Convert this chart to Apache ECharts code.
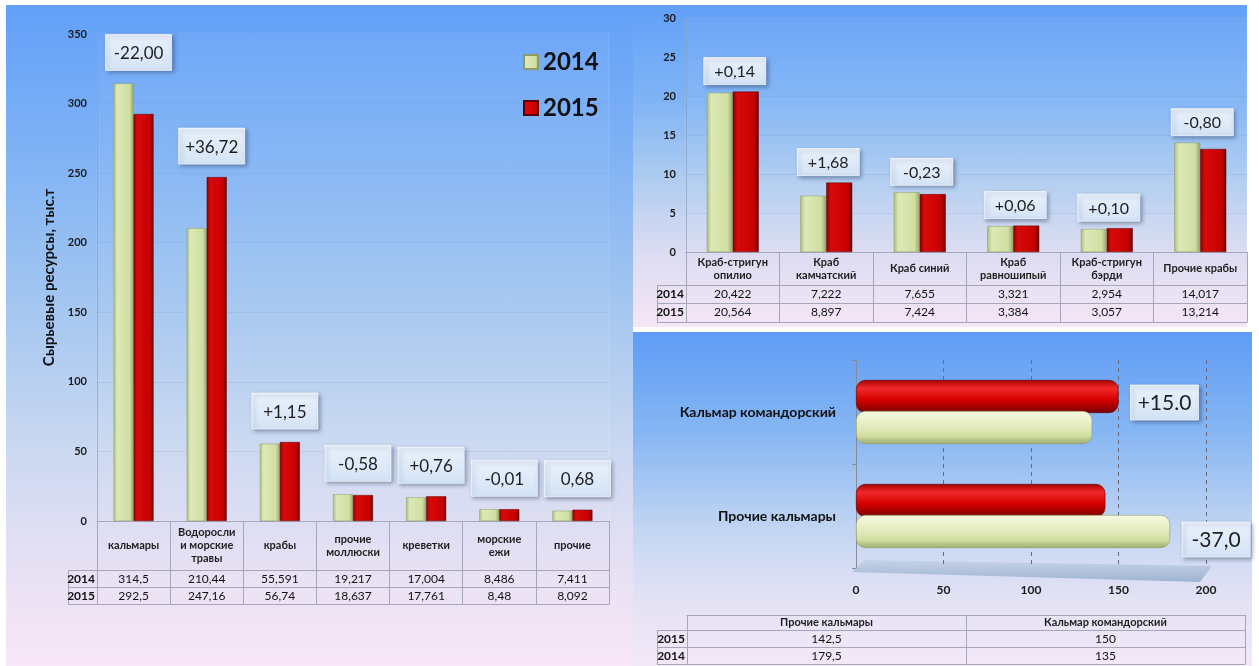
<!DOCTYPE html>
<html>
<head>
<meta charset="utf-8">
<script src="https://cdn.jsdelivr.net/npm/echarts@6/dist/echarts.min.js"></script>
<style>
html,body{margin:0;padding:0;background:#fff;width:1259px;height:666px;overflow:hidden;}
.panel{position:absolute;}
#p1{left:6px;top:5px;width:627px;height:661px;background:linear-gradient(to bottom,#62a0f8 0%,#7fb2f5 22%,#a3c6f0 45%,#cad8f1 67%,#e6e0f4 84%,#f8e7f6 100%);}
#p2{left:633px;top:5px;width:614px;height:322px;background:linear-gradient(to bottom,#62a0f8 0%,#80b4f5 30%,#b0cdf0 55%,#dcdcf2 77%,#f6e6f6 100%);}
#p3{left:633px;top:332px;width:619px;height:334px;background:linear-gradient(to bottom,#5f9cf6 0%,#86b6f3 30%,#c4d6f2 60%,#e4e2f5 80%,#f3e8f8 100%);}
#chart{position:absolute;left:0;top:0;width:1259px;height:666px;}
</style>
</head>
<body>
<div class="panel" id="p1"></div>
<div class="panel" id="p2"></div>
<div class="panel" id="p3"></div>
<div id="chart"></div>
<script>
// ---------- DATA ----------
const years = ['2014', '2015'];

const mainCats = ['кальмары', 'Водоросли\nи морские\nтравы', 'крабы', 'прочие\nмоллюски', 'креветки', 'морские\nежи', 'прочие'];
const main2014 = [314.5, 210.44, 55.591, 19.217, 17.004, 8.486, 7.411];
const main2015 = [292.5, 247.16, 56.74, 18.637, 17.761, 8.48, 8.092];
const mainChange = ['-22,00', '+36,72', '+1,15', '-0,58', '+0,76', '-0,01', '0,68'];
const mainAxisName = 'Сырьевые ресурсы, тыс.т';

const crabCats = ['Краб-стригун\nопилио', 'Краб\nкамчатский', 'Краб синий', 'Краб\nравношипый', 'Краб-стригун\nбэрди', 'Прочие крабы'];
const crab2014 = [20.422, 7.222, 7.655, 3.321, 2.954, 14.017];
const crab2015 = [20.564, 8.897, 7.424, 3.384, 3.057, 13.214];
const crabChange = ['+0,14', '+1,68', '-0,23', '+0,06', '+0,10', '-0,80'];

const squidCats = ['Прочие кальмары', 'Кальмар командорский'];
const squid2015 = [142.5, 150];
const squid2014 = [179.5, 135];
const squidChange = ['-37,0', '+15.0'];

// ---------- STYLE / LAYOUT ----------
const FONT = "Lato, 'Noto Sans', sans-serif";
const BORDER = '#a4a6ba';
const L = {
  main:  {left: 97,  top: 34,  width: 512, height: 487, rows: [49, 66, 83], rowLeft: 68},
  crab:  {left: 686, top: 18,  width: 561, height: 234, rows: [33, 51, 70], rowLeft: 657},
  squid: {left: 856, top: 360, width: 350, height: 208},
  stab:  {left: 687, top: 600, width: 558, height: 15, rows: [15, 32, 49], rowLeft: 657}
};

const fmt = v => String(v).replace('.', ',');

const gV = (c1, c2, c3, c4) => new echarts.graphic.LinearGradient(0, 0, 1, 0, [
  {offset: 0, color: c1}, {offset: 0.18, color: c2}, {offset: 0.8, color: c3}, {offset: 1, color: c4}]);
const GREEN = gV('#a9bb7e', '#dde9b6', '#d0dfa2', '#94a66a');
const RED = gV('#870000', '#d80a0a', '#c80000', '#720000');
const GREEN_H = new echarts.graphic.LinearGradient(0, 0, 0, 1, [
  {offset: 0, color: '#f5f9e0'}, {offset: 0.35, color: '#e9f0c8'}, {offset: 0.75, color: '#d3dfa4'}, {offset: 1, color: '#9dad6e'}]);
const RED_H = new echarts.graphic.LinearGradient(0, 0, 0, 1, [
  {offset: 0, color: '#a80000'}, {offset: 0.25, color: '#f02a2a'}, {offset: 0.6, color: '#d60000'}, {offset: 1, color: '#760000'}]);

function boxRender(arr, w, h, gap, fs, horizontal, barW, dxShift) {
  return function (params, api) {
    const i = params.dataIndex;
    let x, y;
    const p = api.coord([api.value(0), api.value(1)]);
    if (!horizontal) {
      x = p[0] - w / 2 + (dxShift || 0); y = p[1] - gap - h;
    } else {
      const dy = api.value(2) ? barW / 2 : -barW / 2; // longer bar: 2014 lower, 2015 upper
      x = p[0] + gap; y = p[1] + dy + 7 - h / 2;
    }
    return {
      type: 'group',
      children: [
        {type: 'rect', shape: {x: x, y: y, width: w, height: h},
         style: {fill: new echarts.graphic.LinearGradient(0, 0, 0, 1, [{offset: 0, color: '#e9f1fb'}, {offset: 1, color: '#d3e3f6'}]),
                 stroke: 'rgba(255,255,255,0.7)', lineWidth: 1,
                 shadowBlur: 4, shadowOffsetX: 2, shadowOffsetY: 2, shadowColor: 'rgba(40,60,90,0.45)'}},
        {type: 'text', style: {text: arr[i], x: x + w / 2, y: y + h / 2 + 1, align: 'center', verticalAlign: 'middle',
                 fontSize: fs, fontFamily: FONT, fill: '#1e1e1e'}}
      ]
    };
  };
}

function tableAxes(gridIndex, cats, headerH, rowOffsets, rowNames, rowVals, headerFont) {
  const axes = [{
    gridIndex, type: 'category', data: cats, position: 'bottom',
    axisLine: {show: true, lineStyle: {color: BORDER}},
    axisTick: {show: true, interval: 0, length: rowOffsets[rowOffsets.length - 1], lineStyle: {color: BORDER}},
    axisLabel: {interval: 0, margin: headerH / 2, verticalAlign: 'middle', fontSize: headerFont.size, fontWeight: headerFont.weight,
                color: '#1e1e1e', lineHeight: 13, fontFamily: FONT},
    splitLine: {show: false}
  }];
  rowNames.forEach((nm, r) => {
    axes.push({
      gridIndex, type: 'category', data: cats, position: 'bottom', offset: rowOffsets[r],
      name: nm, nameLocation: 'start', nameGap: 2,
      nameTextStyle: {fontSize: 12, fontWeight: 'bold', color: '#111', fontFamily: FONT, verticalAlign: 'top', padding: [3, 0, 0, 0]},
      axisLine: {show: true, lineStyle: {color: BORDER}},
      axisTick: {show: false},
      axisLabel: {interval: 0, margin: 3, fontSize: 12, color: '#111', fontFamily: FONT, formatter: (v, i) => fmt(rowVals[r][i])},
      splitLine: {show: false}
    });
  });
  axes.push({
    gridIndex, type: 'category', data: cats, position: 'bottom', offset: rowOffsets[rowOffsets.length - 1],
    axisLine: {show: true, lineStyle: {color: BORDER}}, axisTick: {show: false}, axisLabel: {show: false}, splitLine: {show: false}
  });
  return axes;
}

function rowHeaderLines(g) {
  const base = g.top + g.height;
  const x0 = g.rowLeft, x1 = g.left;
  const els = [];
  const r = g.rows;
  els.push({type: 'line', shape: {x1: x0 + 0.5, y1: base + r[0], x2: x0 + 0.5, y2: base + r[2]}, style: {stroke: BORDER, lineWidth: 1}, silent: true});
  r.forEach(o => els.push({type: 'line', shape: {x1: x0, y1: base + o + 0.5, x2: x1, y2: base + o + 0.5}, style: {stroke: BORDER, lineWidth: 1}, silent: true}));
  return els;
}

// ---------- CHART ----------
const chart = echarts.init(document.getElementById('chart'), null, {renderer: 'canvas'});

const xMain = tableAxes(0, mainCats, 49, L.main.rows, years, [main2014, main2015], {size: 11, weight: 'bold'});
const xCrab = tableAxes(1, crabCats, 33, L.crab.rows, years, [crab2014, crab2015], {size: 11, weight: 'bold'});
const xSquidVal = [{
  gridIndex: 2, type: 'value', min: 0, max: 200, interval: 50, position: 'bottom',
  axisLine: {show: false}, axisTick: {show: false},
  axisLabel: {margin: 16, fontSize: 12, fontWeight: 'bold', color: '#1a1a1a', fontFamily: FONT},
  splitLine: {show: true, lineStyle: {color: '#6a6a78', type: [4, 4], width: 1}}
}];
const xStab = tableAxes(3, squidCats, 15, L.stab.rows, ['2015', '2014'], [squid2015, squid2014], {size: 11, weight: 'bold'});

const allX = xMain.concat(xCrab, xSquidVal, xStab);
const crabX0 = xMain.length;
const squidX0 = crabX0 + xCrab.length;

const option = {
  animation: false,
  textStyle: {fontFamily: FONT},
  grid: [
    {left: L.main.left, top: L.main.top, width: L.main.width, height: L.main.height, show: true,
     backgroundColor: 'rgba(255,255,255,0.05)', borderColor: 'rgba(255,255,255,0.12)'},
    {left: L.crab.left, top: L.crab.top, width: L.crab.width, height: L.crab.height, show: true,
     backgroundColor: 'rgba(255,255,255,0.05)', borderColor: 'rgba(255,255,255,0.12)'},
    {left: L.squid.left, top: L.squid.top, width: L.squid.width, height: L.squid.height},
    {left: L.stab.left, top: L.stab.top, width: L.stab.width, height: L.stab.height}
  ],
  legend: {
    data: years, orient: 'vertical', left: 518, top: 45, itemWidth: 14, itemHeight: 14, itemGap: 22, icon: 'rect',
    selectedMode: false, textStyle: {fontSize: 24, fontWeight: 'bold', color: '#111', fontFamily: FONT}
  },
  xAxis: allX,
  yAxis: [
    {gridIndex: 0, type: 'value', min: 0, max: 350, interval: 50,
     name: mainAxisName, nameLocation: 'middle', nameGap: 40, nameRotate: 90,
     nameTextStyle: {fontSize: 15, fontWeight: 'bold', color: '#111', fontFamily: FONT},
     axisLine: {show: true, lineStyle: {color: 'rgba(130,150,180,0.6)'}}, axisTick: {show: false},
     axisLabel: {fontSize: 11, fontWeight: 'bold', color: '#1a1a1a', margin: 10, fontFamily: FONT},
     splitLine: {lineStyle: {color: 'rgba(110,140,190,0.35)', type: 'dotted'}}},
    {gridIndex: 1, type: 'value', min: 0, max: 30, interval: 5,
     axisLine: {show: true, lineStyle: {color: 'rgba(130,150,180,0.6)'}}, axisTick: {show: false},
     axisLabel: {fontSize: 11, fontWeight: 'bold', color: '#1a1a1a', margin: 10, fontFamily: FONT},
     splitLine: {lineStyle: {color: 'rgba(110,140,190,0.35)', type: 'dotted'}}},
    {gridIndex: 2, type: 'category', data: squidCats,
     axisLine: {show: true, lineStyle: {color: '#8a8a96'}},
     axisTick: {show: true, length: 4, lineStyle: {color: '#8a8a96'}},
     axisLabel: {margin: 20, fontSize: 14, fontWeight: 'bold', color: '#111', fontFamily: FONT}},
    {gridIndex: 3, type: 'value', show: false}
  ],
  series: [
    {name: '2014', type: 'bar', xAxisIndex: 0, yAxisIndex: 0, data: main2014, barWidth: 20, barGap: '0%',
     itemStyle: {color: GREEN, borderColor: '#8d9d62', borderWidth: 0.5}},
    {name: '2015', type: 'bar', xAxisIndex: 0, yAxisIndex: 0, data: main2015, barWidth: 20, barGap: '0%',
     itemStyle: {color: RED, borderColor: '#600000', borderWidth: 0.5}},
    {name: 'mainLabels', type: 'custom', xAxisIndex: 0, yAxisIndex: 0, z: 5, clip: false,
     data: main2014.map((v, i) => [i, Math.max(v, main2015[i])]),
     renderItem: boxRender(mainChange, 66, 36, 13, 17, false, 0, 5)},

    {name: '2014', type: 'bar', xAxisIndex: crabX0, yAxisIndex: 1, data: crab2014, barWidth: 26, barGap: '0%',
     itemStyle: {color: GREEN, borderColor: '#8d9d62', borderWidth: 0.5}},
    {name: '2015', type: 'bar', xAxisIndex: crabX0, yAxisIndex: 1, data: crab2015, barWidth: 26, barGap: '0%',
     itemStyle: {color: RED, borderColor: '#600000', borderWidth: 0.5}},
    {name: 'crabLabels', type: 'custom', xAxisIndex: crabX0, yAxisIndex: 1, z: 5, clip: false,
     data: crab2014.map((v, i) => [i, Math.max(v, crab2015[i])]),
     renderItem: boxRender(crabChange, 62, 27, 7, 16, false, 0, 2)},

    {name: '2015', type: 'bar', xAxisIndex: squidX0, yAxisIndex: 2, data: squid2015, barWidth: 33, barGap: '-6%',
     itemStyle: {color: RED_H, borderColor: '#5a0000', borderWidth: 0.6, borderRadius: 9}},
    {name: '2014', type: 'bar', xAxisIndex: squidX0, yAxisIndex: 2, data: squid2014, barWidth: 33, barGap: '-6%',
     itemStyle: {color: GREEN_H, borderColor: '#8d9d62', borderWidth: 0.6, borderRadius: 9}},
    {name: 'squidLabels', type: 'custom', xAxisIndex: squidX0, yAxisIndex: 2, z: 5, clip: false,
     data: squid2014.map((v, i) => [Math.max(v, squid2015[i]), i, v >= squid2015[i] ? 1 : 0]),
     renderItem: boxRender(squidChange, 68, 35, 12, 21, true, 33)}
  ],
  graphic: [].concat(
    rowHeaderLines(L.main), rowHeaderLines(L.crab), rowHeaderLines(L.stab),
    [{type: 'polygon', silent: true, z: -1,
      shape: {points: [[L.squid.left + 8, L.squid.top + L.squid.height - 8], [L.squid.left + L.squid.width + 6, L.squid.top + L.squid.height - 2],
                       [L.squid.left + L.squid.width - 6, L.squid.top + L.squid.height + 14], [L.squid.left - 4, L.squid.top + L.squid.height + 4]]},
      style: {fill: new echarts.graphic.LinearGradient(0, 0, 0, 1, [{offset: 0, color: '#c5d3e8'}, {offset: 1, color: '#9fb3d2'}])}}]
  )
};
chart.setOption(option);
</script>
</body>
</html>
